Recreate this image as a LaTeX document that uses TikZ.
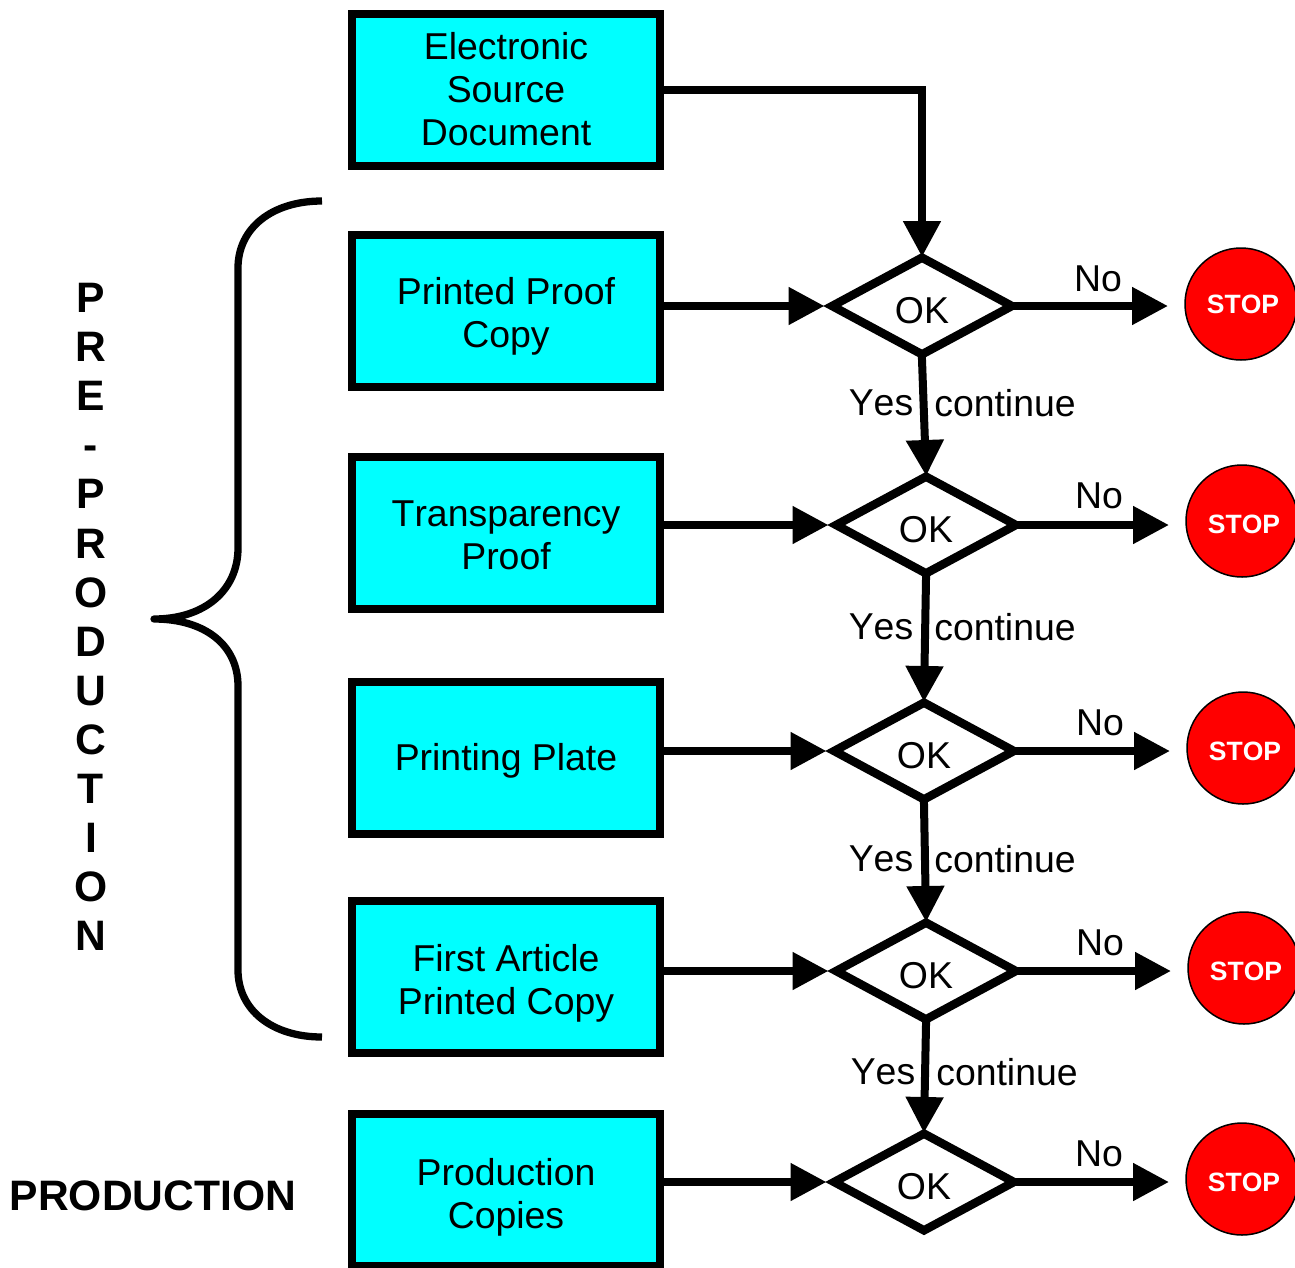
\documentclass[tikz,border=0pt]{standalone}
\usepackage{fontspec}
\setmainfont[Kerning=Off]{Liberation Sans}
\usetikzlibrary{shapes.geometric,arrows.meta}
\definecolor{boxcyan}{HTML}{00FFFF}
\definecolor{stopred}{HTML}{FF0000}
\newcommand\lowered[2]{\vbox{\vskip#1\relax\halign{\hfil##\hfil\cr#2\crcr}}}
\newcommand\stoptext[1]{\vbox{\vskip#1\relax\hbox{\kern4pt STOP}}}
\tikzset{
  procbox/.style={draw=black,line width=8pt,fill=boxcyan,rectangle,minimum width=308pt,minimum height=152pt,inner sep=0pt,outer sep=4pt,font=\fontsize{37.4}{42.8}\selectfont},
  okdia/.style={draw=black,line width=8.5pt,fill=white,diamond,minimum width=183pt,minimum height=100pt,inner sep=0pt,outer sep=4pt,font=\fontsize{37.4}{42.8}\selectfont},
  stopdot/.style={draw=black,line width=1.5pt,fill=stopred,circle,minimum size=112pt,inner sep=0pt,outer sep=0pt,text=white,font=\fontsize{26.5}{30}\bfseries\selectfont},
  lbl/.style={inner sep=0pt,font=\fontsize{37.4}{42.8}\selectfont},
  flow/.style={line width=8pt,-{Triangle[length=36pt,width=36pt]}},
  brace/.style={line width=7.3pt,line join=round},
  big/.style={inner sep=0pt,font=\fontsize{42.6}{49.08}\bfseries\selectfont}
}
\begin{document}
\begin{tikzpicture}[x=1pt,y=-1pt]
\clip (0,0) rectangle (1295,1267);
\fill[white] (0,0) rectangle (1295,1267);
% process boxes
\node[procbox] (b1) at (506,90) {\lowered{-2pt}{Electronic\cr Source\cr Document}};
\node[procbox] (b2) at (506,311) {\lowered{10pt}{Printed Proof\cr Copy}};
\node[procbox] (b3) at (506,533) {\lowered{4pt}{Transparency\cr Proof}};
\node[procbox] (b4) at (506,758) {\lowered{6pt}{Printing Plate}};
\node[procbox] (b5) at (506,977) {\lowered{12pt}{First Article\cr Printed Copy}};
\node[procbox] (b6) at (506,1190) {\lowered{14pt}{Production\cr Copies}};
% decisions
\node[okdia] (d2) at (922,306) {\lowered{8.6pt}{OK}};
\node[okdia] (d3) at (926,525) {\lowered{8.6pt}{OK}};
\node[okdia] (d4) at (924,751) {\lowered{8.6pt}{OK}};
\node[okdia] (d5) at (926,971) {\lowered{8.6pt}{OK}};
\node[okdia] (d6) at (924,1182) {\lowered{8.6pt}{OK}};
% stops
\node[stopdot] (s2) at (1241,304) {\stoptext{0pt}};
\node[stopdot] (s3) at (1242,521) {\stoptext{6pt}};
\node[stopdot] (s4) at (1243,748) {\stoptext{6pt}};
\node[stopdot] (s5) at (1244,968) {\stoptext{6pt}};
\node[stopdot] (s6) at (1242,1179) {\stoptext{6pt}};
% connectors
\draw[flow,shorten >=-5pt] (b1.east) -| (d2.north);
\foreach \r in {2,3,4,5,6}{
  \draw[flow,shorten >=2pt] (b\r.east |- d\r.west) -- (d\r.west);
  \draw[flow,shorten <=-5pt,shorten >=17pt] (d\r.east) -- (s\r.west |- d\r.east);
}
\draw[flow,shorten <=-5pt,shorten >=-5pt] (d2.south) -- (d3.north);
\draw[flow,shorten <=-5pt,shorten >=-5pt] (d3.south) -- (d4.north);
\draw[flow,shorten <=-5pt,shorten >=-5pt] (d4.south) -- (d5.north);
\draw[flow,shorten <=-5pt,shorten >=-5pt] (d5.south) -- (d6.north);
% labels
\node[lbl] (n2) at (1098,279) {No};
\node[lbl] (n3) at (1099,496) {No};
\node[lbl] (n4) at (1100,723) {No};
\node[lbl] (n5) at (1100,943) {No};
\node[lbl] (n6) at (1099,1154) {No};
\node[lbl] (y2) at (881,403) {Yes};
\node[lbl] (c2) at (1005,403) {continue};
\node[lbl] (y3) at (881,627) {Yes};
\node[lbl] (c3) at (1005,627) {continue};
\node[lbl] (y4) at (881,859) {Yes};
\node[lbl] (c4) at (1005,859) {continue};
\node[lbl] (y5) at (883,1072) {Yes};
\node[lbl] (c5) at (1007,1072) {continue};
% brace
\draw[brace] (322,201) .. controls (272,201) and (238,228) .. (238,268)
  -- (238,548) .. controls (238,590) and (205,619) .. (154,619)
  .. controls (205,619) and (238,645) .. (238,686)
  -- (238,970) .. controls (238,1010) and (272,1037) .. (322,1037);
% side titles
\node[big,align=center] (pp) at (91,617) {P\\R\\E\\-\\P\\R\\O\\D\\U\\C\\T\\I\\O\\N};
\node[big] (prod) at (153,1196) {PRODUCTION};
\end{tikzpicture}
\end{document}
